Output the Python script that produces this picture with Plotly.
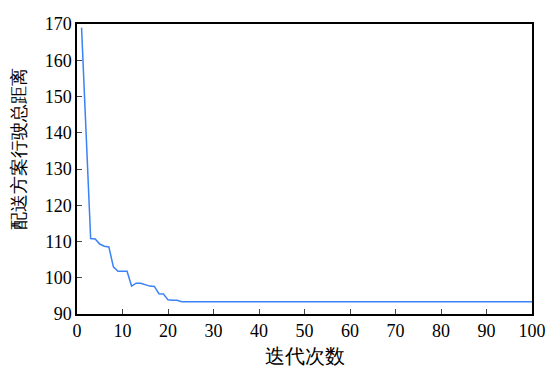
import plotly.graph_objects as go

iterations = list(range(1, 101))
head_values = [169, 140, 110.8, 110.7, 109.3, 108.7, 108.5, 103.0, 101.8, 101.8,
               101.8, 97.7, 98.5, 98.5, 98.1, 97.7, 97.6, 95.6, 95.5, 93.9,
               93.8, 93.8]
tail_value = 93.4
distances = head_values + [tail_value] * (100 - len(head_values))

x_ticks = [0, 10, 20, 30, 40, 50, 60, 70, 80, 90, 100]
y_ticks = [90, 100, 110, 120, 130, 140, 150, 160, 170]
x_title = "迭代次数"
y_title = "配送方案行驶总距离"

fig = go.Figure()
fig.add_trace(go.Scatter(x=iterations, y=distances, mode="lines",
                         line=dict(color="#3b82f6", width=1.5), showlegend=False))

serif = "Liberation Serif"
fig.update_layout(
    width=549, height=367,
    margin=dict(l=77, r=17, t=24, b=53),
    paper_bgcolor="white", plot_bgcolor="white",
    font=dict(family=serif, size=18, color="black"),
)
fig.update_xaxes(range=[0, 100], tickvals=x_ticks, ticks="inside", ticklen=5,
                 showline=True, linecolor="black", linewidth=1.5, mirror=True,
                 showgrid=False, zeroline=False, automargin=False,
                 title=dict(text=x_title, standoff=10, font=dict(family=serif, size=19.5)),
                 tickfont=dict(family=serif, size=18))
fig.update_yaxes(range=[90, 170], tickvals=y_ticks, ticks="inside", ticklen=5,
                 showline=True, linecolor="black", linewidth=1.5, mirror=True,
                 showgrid=False, zeroline=False, automargin=False,
                 tickfont=dict(family=serif, size=18))
fig.add_annotation(text=y_title, xref="paper", yref="paper", x=-0.1275, y=0.569,
                   xanchor="center", yanchor="middle", textangle=-90, showarrow=False,
                   font=dict(family=serif, size=18, color="black"))

fig.write_html("out.html")
